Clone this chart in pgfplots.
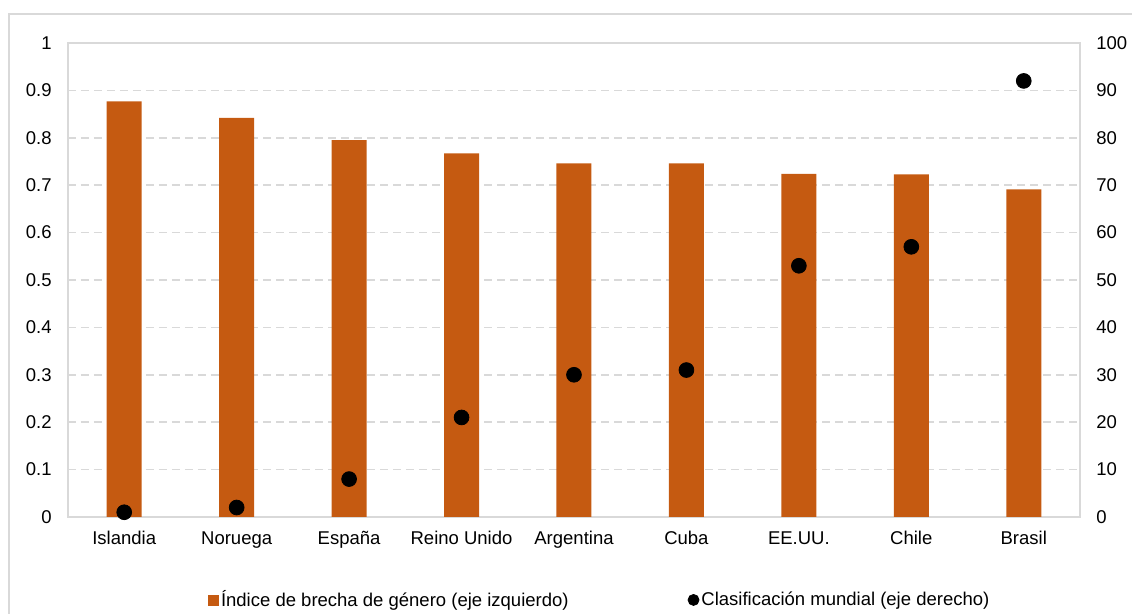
\documentclass[border=0pt]{standalone}
\usepackage{pgfplots}
\pgfplotsset{compat=1.18}
\usepackage{fontspec}
\setmainfont{Liberation Sans}
\definecolor{barc}{HTML}{C55A11}
\definecolor{gridc}{HTML}{D9D9D9}
\begin{document}
\fontsize{9.25}{11}\selectfont
\begin{tikzpicture}
\pgfplotsset{
  base/.style={
    scale only axis, width=506pt, height=237pt,
    xmin=-0.5, xmax=8.5,
    at={(0,0)}, anchor=south west,
    ticklabel style={font=\fontsize{9.25}{11}\selectfont, inner sep=0pt},
    /pgf/number format/assume math mode=true,
    major tick length=0pt,
    axis line style={gridc, line width=0.75pt},
  }
}
\begin{axis}[base,
  ymin=0, ymax=1,
  ytick={0,0.1,0.2,0.3,0.4,0.5,0.6,0.7,0.8,0.9,1},
  yticklabels={0,0.1,0.2,0.3,0.4,0.5,0.6,0.7,0.8,0.9,1},
  ytick pos=left,
  yticklabel style={anchor=east, xshift=-8pt},
  xtick={0,...,8},
  xticklabels={Islandia,Noruega,España,Reino Unido,Argentina,Cuba,EE.UU.,Chile,Brasil},
  xtick pos=bottom,
  xticklabel style={anchor=north, yshift=-7pt},
  ymajorgrids,
  grid style={gridc, line width=0.75pt, dash pattern=on 4pt off 2.5pt},
]
\addplot[ybar, bar width=17.5pt, fill=barc, draw=none] coordinates {
(0,0.877) (1,0.842) (2,0.795) (3,0.767) (4,0.746) (5,0.746) (6,0.724) (7,0.723) (8,0.691)};
\end{axis}
\begin{axis}[base,
  ymin=0, ymax=100,
  ytick={0,10,...,100},
  axis x line=none,
  axis y line*=right,
  yticklabel style={anchor=west, xshift=8pt},
  legend style={at={(0.5255,-0.175)}, anchor=center, draw=none, fill=none,
    legend columns=2, font=\fontsize{9.25}{11}\selectfont,
    /tikz/every even column/.append style={column sep=58.5pt},
    nodes={inner sep=1pt}},
]
\addlegendimage{legend image code/.code={\fill[barc] (0pt,-2.5pt) rectangle (5pt,2.5pt);}}
\addlegendentry{Índice de brecha de género (eje izquierdo)}
\addplot[only marks, mark=*, mark size=3.7pt, black,
  legend image code/.code={\fill[black] (2.75pt,0pt) circle (2.75pt);}] coordinates {
(0,1) (1,2) (2,8) (3,21) (4,30) (5,31) (6,53) (7,57) (8,92)};
\addlegendentry{Clasificación mundial (eje derecho)}
\end{axis}
\draw[gridc, line width=0.75pt] (-29.5pt,-60pt) -- (-29.5pt,251.5pt) -- (560pt,251.5pt);
\pgfresetboundingbox
\path[use as bounding box] (-34pt,-48.5pt) rectangle (532pt,258.5pt);
\end{tikzpicture}
\end{document}
